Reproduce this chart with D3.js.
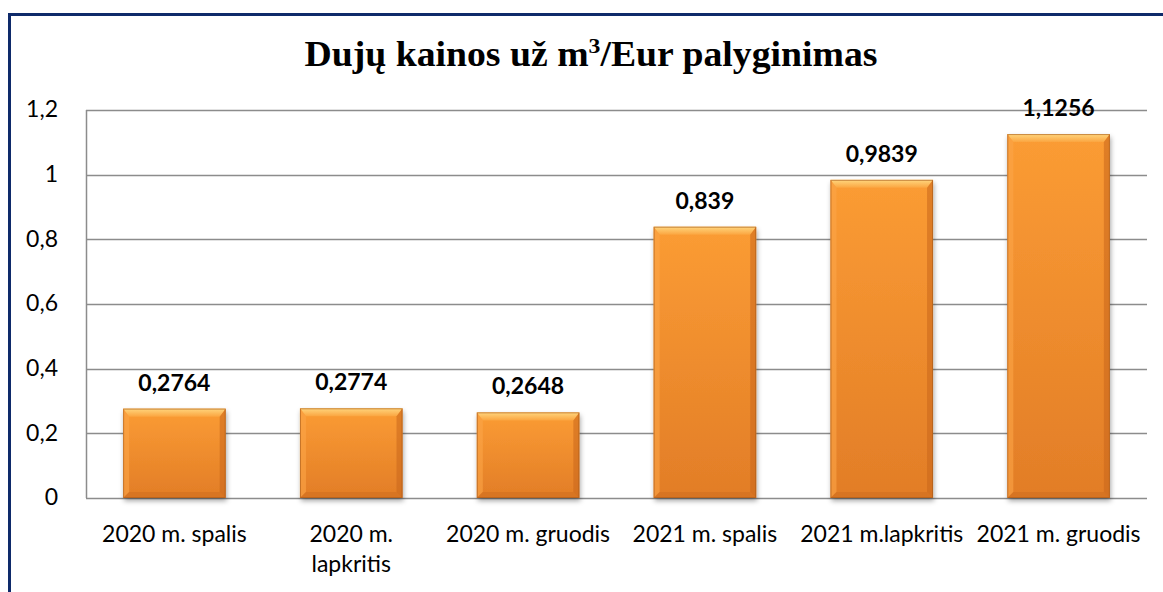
<!DOCTYPE html>
<html><head><meta charset="utf-8">
<script src="https://cdn.jsdelivr.net/npm/d3@7"></script>
<style>body{margin:0;background:#fff}svg{display:block}</style>
</head><body>
<script>
const categories = ["2020 m. spalis", "2020 m.\nlapkritis", "2020 m. gruodis", "2021 m. spalis", "2021 m.lapkritis", "2021 m. gruodis"];
const values = [0.2764, 0.2774, 0.2648, 0.839, 0.9839, 1.1256];
const valueLabels = ["0,2764", "0,2774", "0,2648", "0,839", "0,9839", "1,1256"];
const yTicks = [0, 0.2, 0.4, 0.6, 0.8, 1, 1.2];
const yTickLabels = ["0", "0,2", "0,4", "0,6", "0,8", "1", "1,2"];

const W = 1163, H = 592;
const FONT = "Lato, 'Open Sans', sans-serif";
const svg = d3.select("body").append("svg").attr("width", W).attr("height", H);
const defs = svg.append("defs");
const g1 = defs.append("linearGradient").attr("id","body").attr("x1",0).attr("y1",0).attr("x2",0).attr("y2",1);
g1.append("stop").attr("offset","0%").attr("stop-color","#FB9C34");
g1.append("stop").attr("offset","100%").attr("stop-color","#E27D27");
const g2 = defs.append("linearGradient").attr("id","topb").attr("x1",0).attr("y1",0).attr("x2",0).attr("y2",1);
g2.append("stop").attr("offset","0%").attr("stop-color","#FFD67E");
g2.append("stop").attr("offset","100%").attr("stop-color","#FBA540");
const f = defs.append("filter").attr("id","sh").attr("x","-20%").attr("y","-20%").attr("width","140%").attr("height","140%");
f.append("feDropShadow").attr("dx",1).attr("dy",3).attr("stdDeviation",2.5).attr("flood-color","#000").attr("flood-opacity",0.35);

// outer border
svg.append("path").attr("d", `M9.5,${H} L9.5,14.5 L${W},14.5`).attr("fill","none").attr("stroke","#0E2A6A").attr("stroke-width",3);

const m = {left: 86, right: 1147, top: 110, bottom: 498};
const x = d3.scaleBand().domain(categories).range([m.left, m.right]).paddingInner(0.42).paddingOuter(0.21);
const y = d3.scaleLinear().domain([0, 1.2]).range([m.bottom, m.top]);

// gridlines
svg.append("g").selectAll("line").data(yTicks).join("line")
  .attr("x1", m.left).attr("x2", m.right)
  .attr("y1", d => Math.round(y(d)) + 0.5).attr("y2", d => Math.round(y(d)) + 0.5)
  .attr("stroke", "#8C8C8C").attr("stroke-width", 1.5);
svg.append("line").attr("x1", m.left+0.5).attr("x2", m.left+0.5).attr("y1", y(1.2)).attr("y2", y(0))
  .attr("stroke","#8C8C8C").attr("stroke-width",1.5);

// y axis labels
const yAxis = d3.axisLeft(y).tickValues(yTicks).tickFormat((d,i) => yTickLabels[i]).tickSize(0).tickPadding(28);
const ya = svg.append("g").attr("transform", `translate(${m.left},0)`).call(yAxis);
ya.select(".domain").remove();
ya.selectAll("text").attr("font-family",FONT).attr("font-size",23).attr("fill","#000").attr("dy","0.3em");

// bars
const bars = svg.append("g").selectAll("g").data(categories).join("g");
bars.each(function(c, i) {
  const gg = d3.select(this);
  const x0 = x(c), bw = x.bandwidth(), y0 = y(values[i]), y1 = y(0), h = y1 - y0;
  const b = 6;
  gg.append("rect").attr("x", x0).attr("y", y0).attr("width", bw).attr("height", h).attr("fill","url(#body)").attr("filter","url(#sh)");
  gg.append("path").attr("d", `M${x0},${y0} L${x0+bw},${y0} L${x0+bw-b},${y0+b+2} L${x0+b},${y0+b+2} Z`).attr("fill","url(#topb)");
  gg.append("path").attr("d", `M${x0},${y0} L${x0+b},${y0+b+2} L${x0+b},${y1-b} L${x0},${y1} Z`).attr("fill","#FBA548").attr("opacity",0.6);
  gg.append("path").attr("d", `M${x0+bw},${y0} L${x0+bw-b},${y0+b+2} L${x0+bw-b},${y1-b} L${x0+bw},${y1} Z`).attr("fill","#C8661C").attr("opacity",0.55);
  gg.append("path").attr("d", `M${x0},${y1} L${x0+b},${y1-b} L${x0+bw-b},${y1-b} L${x0+bw},${y1} Z`).attr("fill","#C96A20").attr("opacity",0.45);
  gg.append("rect").attr("x", x0+0.5).attr("y", y0+0.5).attr("width", bw-1).attr("height", h-1).attr("fill","none").attr("stroke","#A65A1A").attr("stroke-opacity",0.6);
  gg.append("text").attr("x", x0 + bw/2).attr("y", y0 - 18).attr("text-anchor","middle")
    .attr("font-family",FONT).attr("font-weight","bold").attr("font-size",23).attr("fill","#000")
    .text(valueLabels[i]);
});

// x axis labels
const xa = svg.append("g");
categories.forEach(c => {
  const lines = c.split("\n");
  const cx = x(c) + x.bandwidth()/2;
  const t = xa.append("text").attr("x", cx).attr("y", 542).attr("text-anchor","middle")
    .attr("font-family",FONT).attr("font-size",23).attr("fill","#000");
  lines.forEach((l, k) => t.append("tspan").attr("x", cx).attr("dy", k ? 30 : 0).text(l));
});

// title
const title = svg.append("text").attr("x", 591).attr("y", 66).attr("text-anchor","middle")
  .attr("font-family","'Liberation Serif', 'Times New Roman', serif").attr("font-weight","bold").attr("font-size",35).attr("fill","#000")
  .attr("textLength", 573).attr("lengthAdjust","spacingAndGlyphs");
title.append("tspan").text("Dujų kainos už m");
title.append("tspan").attr("font-size",22).attr("dy",-13).text("3");
title.append("tspan").attr("dy",13).text("/Eur palyginimas");
</script>
</body></html>
